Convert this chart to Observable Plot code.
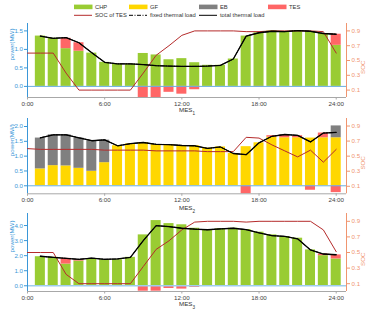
<!DOCTYPE html>
<html><head><meta charset="utf-8">
<script src="https://cdn.jsdelivr.net/npm/d3@7"></script>
<script src="https://cdn.jsdelivr.net/npm/@observablehq/plot@0.6"></script>
<style>
body{margin:0;background:#fff;font-family:"Liberation Sans",Arial,sans-serif}
#wrap{position:relative;width:374px;height:317px;overflow:hidden}
#wrap svg{position:absolute;left:0}
</style></head>
<body><div id="wrap"></div>
<script>
// ---------- data ----------
const hours = [1,2,3,4,5,6,7,8,9,10,11,12,13,14,15,16,17,18,19,20,21,22,23,24];
const socHours = [0,1,2,3,4,5,6,7,8,9,10,11,12,13,14,15,16,17,18,19,20,21,22,23,24];
const xTicks = [0,6,12,18,24];
const socTicks = [0.1,0.3,0.5,0.7,0.9];

// MES1
const mes1CHP = [1.36,1.30,1.02,0.95,0.90,0.65,0.60,0.60,0.89,0.85,0.72,0.75,0.64,0.57,0.57,0.74,1.36,1.45,1.50,1.48,1.50,1.48,1.43,1.11];
const mes1TES = [0,0,0.28,0.23,0,0,0,0,-0.30,-0.30,-0.16,-0.21,-0.09,0,0,0,0,-0.02,0,0,0,0,0,0.30];
const mes1Total = [1.36,1.30,1.32,1.18,0.91,0.65,0.61,0.61,0.59,0.56,0.55,0.54,0.54,0.55,0.57,0.74,1.36,1.45,1.49,1.48,1.51,1.49,1.43,1.41];
const mes1Fixed = mes1Total;
const mes1SOC = [0.60,0.60,0.60,0.33,0.10,0.10,0.10,0.10,0.10,0.33,0.57,0.70,0.84,0.90,0.90,0.90,0.90,0.89,0.89,0.90,0.90,0.90,0.90,0.89,0.60];

// MES2
const mes2GF = [0.57,0.68,0.67,0.59,0.49,0.78,1.35,1.41,1.46,1.39,1.39,1.36,1.35,1.27,1.31,1.09,1.32,1.45,1.64,1.62,1.62,1.61,1.62,1.62];
const mes2EB = [1.04,1.04,1.05,1.02,1.03,0.76,0,0,0,0,0,0,0,0,0,0,0,0,0,0,0,0,0,0.40];
const mes2TES = [0,0,0,0,0,0,0,0,0,0,0,0,0,0,0,0,-0.27,0,0.05,0.09,0.07,-0.15,0.16,-0.23];
const mes2Total = [1.62,1.72,1.72,1.62,1.52,1.55,1.35,1.42,1.46,1.40,1.39,1.36,1.35,1.26,1.31,1.09,1.05,1.45,1.67,1.73,1.70,1.48,1.78,1.80];
const mes2Fixed = mes2Total;
const mes2SOC = [0.60,0.59,0.59,0.59,0.59,0.59,0.58,0.58,0.58,0.58,0.57,0.57,0.57,0.57,0.56,0.56,0.56,0.75,0.74,0.65,0.57,0.49,0.58,0.42,0.59];

// MES3
const mes3CHP = [1.93,1.89,1.44,1.64,1.78,1.73,1.73,1.89,3.38,4.33,4.13,4.05,3.82,3.71,3.78,3.82,3.73,3.56,3.38,3.27,3.16,2.38,2.00,1.78];
const mes3TES = [0,0,0.38,0.09,0,0,0,0,-0.36,-0.36,-0.18,-0.22,-0.11,0,0,0,0,-0.03,0,0,0,0,0.11,0.27];
const mes3Total = [1.96,1.89,1.82,1.76,1.84,1.76,1.78,1.89,3.00,3.99,3.93,3.82,3.76,3.72,3.78,3.82,3.73,3.52,3.33,3.28,3.12,2.38,2.11,2.06];
const mes3Fixed = mes3Total;
const mes3SOC = [0.50,0.50,0.50,0.22,0.10,0.10,0.10,0.10,0.10,0.32,0.54,0.65,0.79,0.89,0.90,0.90,0.90,0.89,0.90,0.90,0.90,0.90,0.90,0.79,0.51];

// ---------- styles ----------
const C = {
  CHP: "#99cc33", GF: "#ffd700", EB: "#808080", TES: "#ff6666",
  soc: "#b52b2b", blue: "#3a97d8", salmon: "#f0956f", zero: "#6aaee0", zeroLight: "#9fcdee", axis: "#a8a8a8"
};
const FONT = '"Liberation Sans", Arial, sans-serif';
const wrap = document.getElementById("wrap");

// ---------- legend ----------
(function legend(){
  const svg = d3.create("svg").attr("width",374).attr("height",22).style("top","0px")
    .attr("font-family", FONT).attr("font-size", 5.8).attr("fill", "#333");
  const row1 = [["CHP", C.CHP, 74], ["GF", C.GF, 129], ["EB", C.EB, 199], ["TES", C.TES, 268]];
  for (const [t, c, x] of row1) {
    svg.append("rect").attr("x", x).attr("y", 4.6).attr("width", 18.5).attr("height", 4.6).attr("fill", c);
    svg.append("text").attr("x", x + 21).attr("y", 6.9).attr("dy", "0.35em").text(t);
  }
  const row2 = [["SOC of TES", C.soc, null, 74], ["fixed thermal load", "#000", "4,1.5,1,1.5", 129], ["total thermal load", "#000", null, 199]];
  for (const [t, c, dash, x] of row2) {
    const l = svg.append("line").attr("x1", x).attr("x2", x + 18).attr("y1", 15.3).attr("y2", 15.3)
      .attr("stroke", c).attr("stroke-width", 1);
    if (dash) l.attr("stroke-dasharray", dash);
    svg.append("text").attr("x", x + 21).attr("y", 15.3).attr("dy", "0.35em").text(t);
  }
  wrap.appendChild(svg.node());
})();

// ---------- panel ----------
function panel({top, height, mt, mb, yDomain, yTicks, series, total, fixed, soc, label, sub, labelDy, zeroW, zeroC}) {
  const [lo, hi] = yDomain;
  const toY = s => lo + s * (hi - lo);
  const xMax = 24.8;
  const half = 0.39;
  const posAcc = hours.map(() => 0), negAcc = hours.map(() => 0);
  const barMarks = series.map(({values, color}) => {
    const rows = [];
    values.forEach((v, i) => {
      if (v > 0) { rows.push({h: hours[i], y1: posAcc[i], y2: posAcc[i] + v}); posAcc[i] += v; }
      else if (v < 0) { rows.push({h: hours[i], y1: negAcc[i], y2: negAcc[i] + v}); negAcc[i] += v; }
    });
    return Plot.rectY(rows, {x1: d => d.h - half, x2: d => d.h + half, y1: "y1", y2: "y2", fill: color});
  });
  const totalRows = hours.map((h, i) => ({h, v: total[i]}));
  const fixedRows = hours.map((h, i) => ({h, v: fixed[i]}));
  const socRows = socHours.map((h, i) => ({h, s: soc[i]}));
  const p = Plot.plot({
    width: 374, height,
    marginLeft: 27, marginRight: 28, marginTop: mt, marginBottom: mb,
    style: {fontFamily: FONT, fontSize: "6.2px", background: "transparent", overflow: "visible"},
    x: {domain: [0, xMax]},
    y: {domain: [lo, hi]},
    marks: [
      ...barMarks,
      Plot.ruleY([0], {stroke: zeroC, strokeWidth: zeroW}),
      Plot.ruleY([lo], {stroke: C.axis, strokeWidth: 1}),
      Plot.ruleX([0], {stroke: C.blue, strokeWidth: 1}),
      Plot.ruleX([xMax], {stroke: C.salmon, strokeWidth: 1}),
      Plot.line(socRows, {x: "h", y: d => toY(d.s), stroke: C.soc, strokeWidth: 1}),
      Plot.line(fixedRows, {x: "h", y: "v", stroke: "#000", strokeWidth: 1, strokeDasharray: "4,1.5,1,1.5"}),
      Plot.line(totalRows, {x: "h", y: "v", stroke: "#000", strokeWidth: 1.3}),
      Plot.axisY({anchor: "left", ticks: yTicks, tickSize: 3, tickPadding: 1.5, color: C.blue, label: null}),
      Plot.axisY({anchor: "right", ticks: socTicks.map(toY), tickFormat: v => ((v - lo) / (hi - lo)).toFixed(1),
        tickSize: 3, tickPadding: 2, color: C.salmon, label: null}),
      Plot.axisX({ticks: xTicks, tickFormat: v => v + ":00", tickSize: 2.5, tickPadding: 1.5,
        stroke: C.axis, fill: "#444", label: null}),
      Plot.text(["power(MW)"], {text: d => d, frameAnchor: "left", dx: -15, rotate: -90, fill: C.blue}),
      Plot.text(["SOC"], {text: d => d, frameAnchor: "right", dx: 17, rotate: -90, fill: C.salmon}),
      Plot.text([label], {text: d => d, frameAnchor: "bottom", dy: labelDy, fill: "#333"})
    ]
  });
  p.style.top = top + "px";
  p.querySelectorAll("text").forEach(t => {
    if (t.textContent === label) {
      t.textContent = "";
      const ns = "http://www.w3.org/2000/svg";
      const a = document.createElementNS(ns, "tspan"); a.textContent = "MES";
      const b = document.createElementNS(ns, "tspan"); b.textContent = sub;
      b.setAttribute("baseline-shift", "sub"); b.setAttribute("font-size", "4.6px");
      t.appendChild(a); t.appendChild(b);
    }
  });
  wrap.appendChild(p);
}

panel({top: 20, height: 95, mt: 3, mb: 18, yDomain: [-0.3, 1.7], yTicks: [0, 0.5, 1, 1.5],
  series: [{values: mes1CHP, color: C.CHP}, {values: mes1TES, color: C.TES}],
  total: mes1Total, fixed: mes1Fixed, soc: mes1SOC, label: "MES1", sub: "1", labelDy: 14, zeroW: 1, zeroC: C.zero});

panel({top: 115, height: 95, mt: 3, mb: 16.7, yDomain: [-0.27, 2.27], yTicks: [0, 0.5, 1, 1.5, 2],
  series: [{values: mes2GF, color: C.GF}, {values: mes2EB, color: C.EB}, {values: mes2TES, color: C.TES}],
  total: mes2Total, fixed: mes2Fixed, soc: mes2SOC, label: "MES2", sub: "2", labelDy: 16, zeroW: 1, zeroC: C.zero});

panel({top: 210, height: 107, mt: 3, mb: 26, yDomain: [-0.38, 4.8], yTicks: [0, 1, 2, 3, 4],
  series: [{values: mes3CHP, color: C.CHP}, {values: mes3TES, color: C.TES}],
  total: mes3Total, fixed: mes3Fixed, soc: mes3SOC, label: "MES3", sub: "3", labelDy: 14, zeroW: 1.6, zeroC: C.zeroLight});
</script>
</body></html>
